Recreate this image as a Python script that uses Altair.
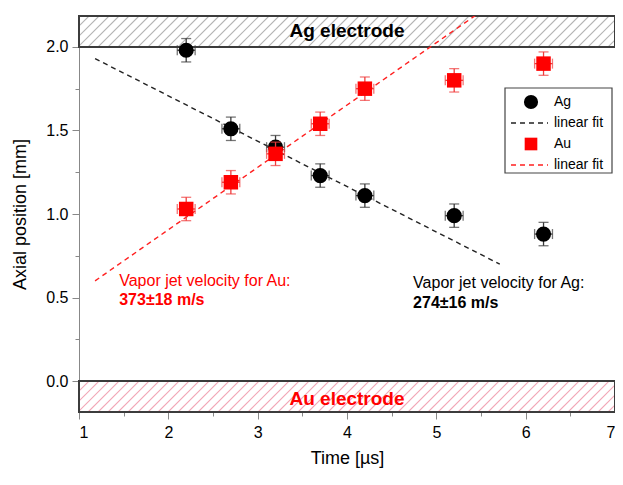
import altair as alt
import pandas as pd
import numpy as np

# ---- data ----
times = [2.2, 2.7, 3.2, 3.7, 4.2, 5.2, 6.2]
ag_pos = [1.98, 1.51, 1.40, 1.23, 1.11, 0.99, 0.88]
au_pos = [1.03, 1.19, 1.36, 1.54, 1.75, 1.80, 1.90]
t_err = [0.1] * 7
ag_err = [0.07] * 7
au_err = [0.07] * 7

fit_x = [1.18, 5.71]
ag_fit_y = [1.93, 0.70]
au_fit_y = [0.60, 2.29]

x_dom = [1, 7]
y_dom = [-0.185, 2.185]

W, H = 536, 396
FONT = "Liberation Sans"

xs = alt.Scale(domain=x_dom, nice=False, zero=False)
ys = alt.Scale(domain=y_dom, nice=False, zero=False)


def series_df(pos, perr):
    d = pd.DataFrame({"t": times, "pos": pos, "terr": t_err, "perr": perr})
    d["t_lo"] = d["t"] - d["terr"]
    d["t_hi"] = d["t"] + d["terr"]
    d["p_lo"] = d["pos"] - d["perr"]
    d["p_hi"] = d["pos"] + d["perr"]
    return d


ag = series_df(ag_pos, ag_err)
au = series_df(au_pos, au_err)

ag_fit = pd.DataFrame({"t": fit_x, "pos": ag_fit_y})
au_fit = pd.DataFrame({"t": fit_x, "pos": au_fit_y})

top_band = pd.DataFrame({"x1": [1], "x2": [7], "y1": [2.0], "y2": [y_dom[1]],
                         "name": ["Ag electrode"], "lx": [4], "ly": [2.095]})
bot_band = pd.DataFrame({"x1": [1], "x2": [7], "y1": [y_dom[0]], "y2": [0.0],
                         "name": ["Au electrode"], "lx": [4], "ly": [-0.105]})

# hatch decoration (45 degrees in screen space)
px_per_x = W / (x_dom[1] - x_dom[0])
px_per_y = H / (y_dom[1] - y_dom[0])


def hatch_df(yb, yt):
    dx = (yt - yb) * px_per_y / px_per_x
    step = 10 / px_per_x
    x0 = np.arange(x_dom[0] - dx, x_dom[1], step)
    return pd.DataFrame({"x": x0, "x2": x0 + dx, "y": yb, "y2": yt})


hatch_top = hatch_df(2.0, y_dom[1])
hatch_bot = hatch_df(y_dom[0], 0.0)

X = lambda f: alt.X(f, type="quantitative", scale=xs)
Y = lambda f: alt.Y(f, type="quantitative", scale=ys)

base_axes = alt.Chart(pd.DataFrame({"t": [1], "pos": [0]})).mark_point(opacity=0).encode(
    x=alt.X("t:Q", scale=xs, title="Time [µs]",
            axis=alt.Axis(values=[1, 1.5, 2, 2.5, 3, 3.5, 4, 4.5, 5, 5.5, 6, 6.5, 7],
                          labelExpr="datum.value % 1 == 0 ? format(datum.value, 'd') : ''",
                          tickSize={"condition": {"test": "datum.value % 1 != 0", "value": 4}, "value": 7},
                          grid=False, labelFontSize=16, titleFontSize=18, titlePadding=9,
                          titleFontWeight="normal", labelPadding=5)),
    y=alt.Y("pos:Q", scale=ys, title="Axial position [mm]",
            axis=alt.Axis(values=[0, 0.25, 0.5, 0.75, 1, 1.25, 1.5, 1.75, 2],
                          labelExpr="datum.value % 0.5 == 0 ? format(datum.value, '.1f') : ''",
                          tickSize={"condition": {"test": "datum.value % 0.5 != 0", "value": 4}, "value": 7},
                          grid=False, labelFontSize=16, titleFontSize=18, titlePadding=16,
                          titleFontWeight="normal", labelPadding=4)),
)

layers = [base_axes]

# bands: hatch, border, label
for hd, bd, hcol, tcol in [(hatch_top, top_band, "#b4b4b4", "#000000"),
                           (hatch_bot, bot_band, "#f2a6b6", "#ff0000")]:
    layers.append(alt.Chart(hd).mark_rule(strokeWidth=1.1, clip=True, color=hcol).encode(
        x=X("x"), x2="x2", y=Y("y"), y2="y2"))
    layers.append(alt.Chart(bd).mark_rect(fillOpacity=0, stroke="#3c3c3c", strokeWidth=2).encode(
        x=X("x1"), x2="x2", y=Y("y1"), y2="y2"))
    layers.append(alt.Chart(bd).mark_text(fontSize=19, fontWeight="bold", font=FONT, color=tcol).encode(
        x=X("lx"), y=Y("ly"), text="name:N"))

# linear fits
layers.append(alt.Chart(ag_fit).mark_line(strokeDash=[5, 4], strokeWidth=1.4, clip=True, color="#222222").encode(
    x=X("t"), y=Y("pos")))
layers.append(alt.Chart(au_fit).mark_line(strokeDash=[5, 4], strokeWidth=1.4, clip=True, color="#ff2020").encode(
    x=X("t"), y=Y("pos")))

# error bars and points
for d, ecol, shape, pcol, psize in [(ag, "#3a3a3a", "circle", "#000000", 230),
                                    (au, "#f03c3c", "square", "#ff0000", 210)]:
    layers += [
        alt.Chart(d).mark_rule(strokeWidth=1.3, color=ecol).encode(x=X("t"), y=Y("p_lo"), y2="p_hi"),
        alt.Chart(d).mark_rule(strokeWidth=1.3, color=ecol).encode(x=X("t_lo"), x2="t_hi", y=Y("pos")),
        alt.Chart(d).mark_tick(orient="horizontal", size=10, thickness=1.3, color=ecol).encode(
            x=X("t"), y=Y("p_hi")),
        alt.Chart(d).mark_tick(orient="horizontal", size=10, thickness=1.3, color=ecol).encode(
            x=X("t"), y=Y("p_lo")),
        alt.Chart(d).mark_tick(orient="vertical", size=10, thickness=1.3, color=ecol).encode(
            x=X("t_lo"), y=Y("pos")),
        alt.Chart(d).mark_tick(orient="vertical", size=10, thickness=1.3, color=ecol).encode(
            x=X("t_hi"), y=Y("pos")),
        alt.Chart(d).mark_point(shape=shape, filled=True, size=psize, opacity=1, color=pcol).encode(
            x=X("t"), y=Y("pos")),
    ]

# annotations
ann_au = pd.DataFrame({"x": [1.45, 1.45], "y": [0.60, 0.485],
                       "txt": ["Vapor jet velocity for Au:", "373±18 m/s"]})
ann_ag = pd.DataFrame({"x": [4.74, 4.74], "y": [0.585, 0.465],
                       "txt": ["Vapor jet velocity for Ag:", "274±16 m/s"]})
for d, col in [(ann_au, "#ff0000"), (ann_ag, "#000000")]:
    layers.append(alt.Chart(d.iloc[[0]]).mark_text(align="left", baseline="middle", fontSize=16, font=FONT,
                                                   color=col).encode(x=X("x"), y=Y("y"), text="txt:N"))
    layers.append(alt.Chart(d.iloc[[1]]).mark_text(align="left", baseline="middle", fontSize=16, font=FONT,
                                                   fontWeight="bold", color=col).encode(
        x=X("x"), y=Y("y"), text="txt:N"))

# manual legend (pixel positions)
one = pd.DataFrame({"a": [0]})
layers += [
    alt.Chart(one).mark_rect(fill="white", stroke="#444444", strokeWidth=1.2).encode(
        x=alt.value(426), x2=alt.value(533), y=alt.value(72), y2=alt.value(157)),
    alt.Chart(one).mark_point(shape="circle", filled=True, size=200, color="#000000", opacity=1).encode(
        x=alt.value(452), y=alt.value(86)),
    alt.Chart(one).mark_point(shape="square", filled=True, size=160, color="#ff0000", opacity=1).encode(
        x=alt.value(452), y=alt.value(128)),
    alt.Chart(one).mark_rule(strokeDash=[5, 4], strokeWidth=1.4, color="#222222").encode(
        x=alt.value(432), x2=alt.value(469), y=alt.value(107)),
    alt.Chart(one).mark_rule(strokeDash=[5, 4], strokeWidth=1.4, color="#ff2020").encode(
        x=alt.value(432), x2=alt.value(469), y=alt.value(149)),
    alt.Chart(pd.DataFrame({"txt": ["Ag", "linear fit", "Au", "linear fit"],
                            "yy": [86, 107, 128, 149]})).mark_text(
        align="left", baseline="middle", fontSize=14, font=FONT, color="#000000").encode(
        x=alt.value(475), y=alt.Y("yy:Q", scale=None), text="txt:N"),
]

chart = alt.layer(*layers).properties(
    width=W, height=H,
    autosize=alt.AutoSizeParams(type="none"),
    padding={"left": 71, "top": 8, "right": 0, "bottom": 56},
).configure_view(
    stroke="#000000", strokeWidth=1.6,
).configure_axis(
    labelFont=FONT, titleFont=FONT, labelColor="#222222", titleColor="#222222",
    titleFontWeight="normal", domainColor="#000000", domainWidth=1.6,
    tickColor="#000000", tickWidth=1.4,
).configure(background="white")

chart.save("out.html", embed_options={"renderer": "svg", "actions": False})
